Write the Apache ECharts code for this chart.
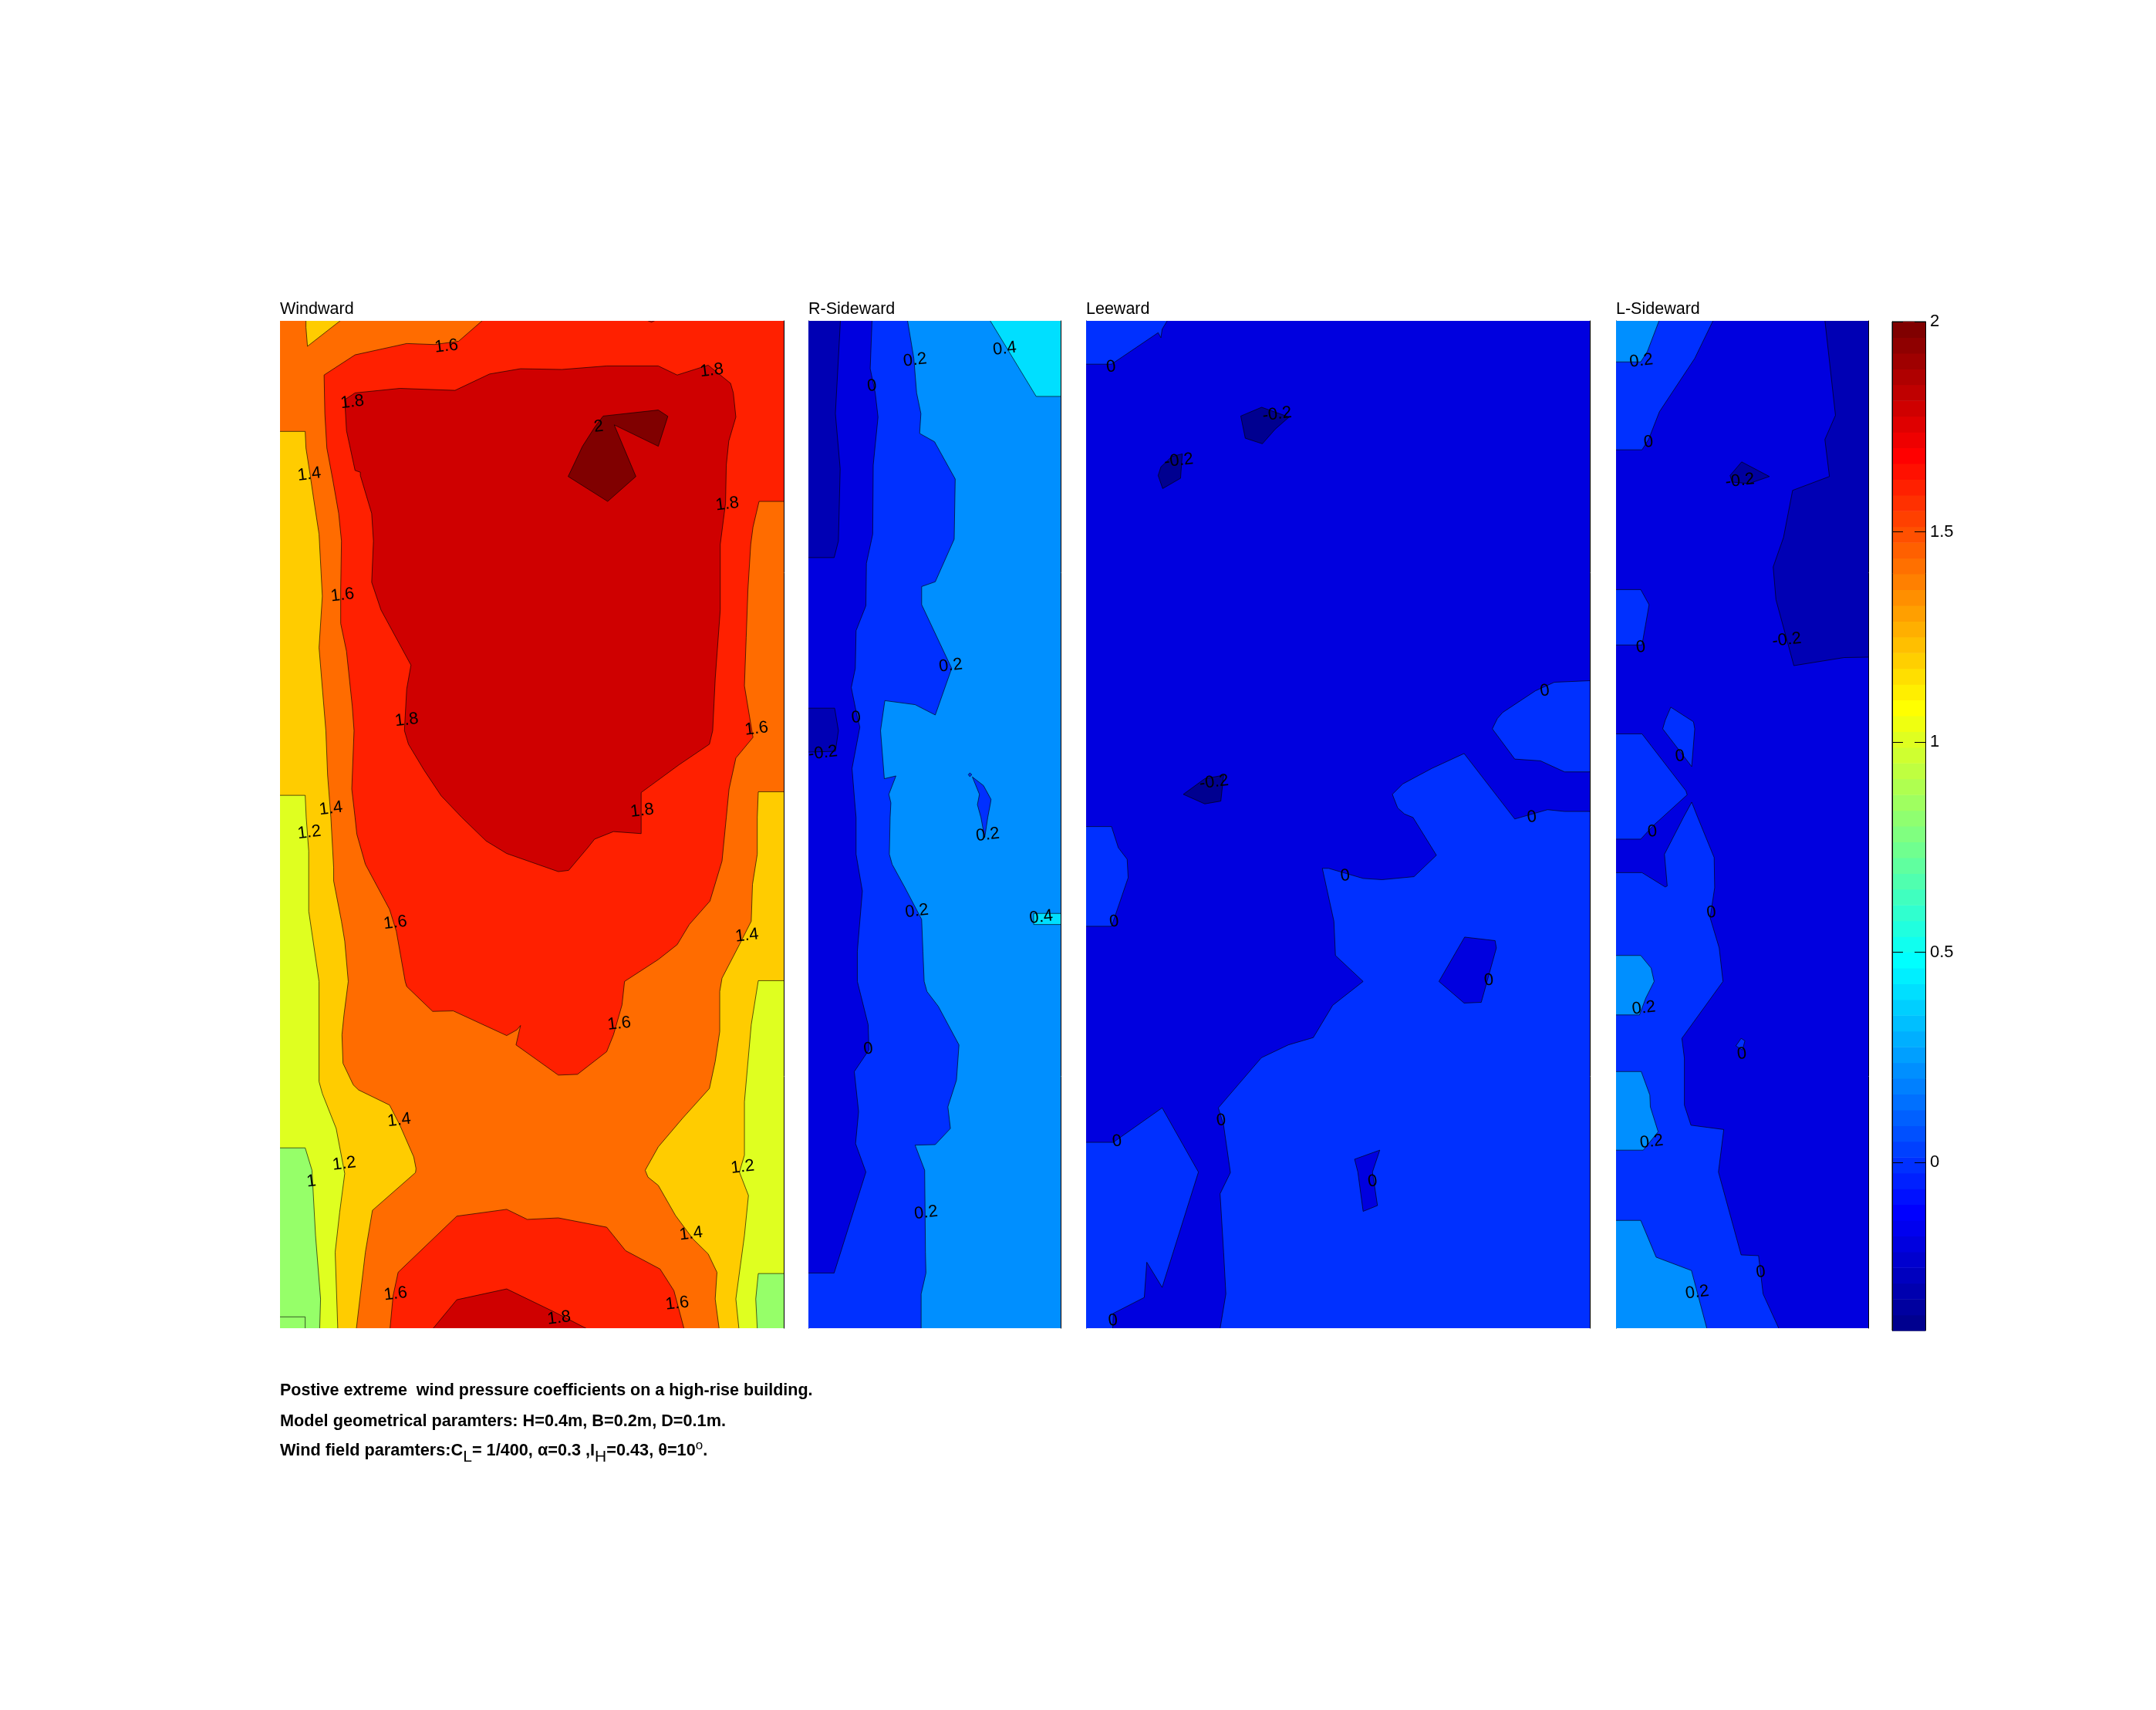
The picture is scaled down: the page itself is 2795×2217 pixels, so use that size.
<!DOCTYPE html>
<html><head><meta charset="utf-8">
<style>html,body{margin:0;padding:0;background:#fff}#c{width:2795px;height:2217px}</style>
<script src="https://cdn.jsdelivr.net/npm/echarts@6/dist/echarts.min.js"></script>
</head><body><div id="c"></div>
<script>
// All contour vertices are [distance across face (mm), distance below roof (mm)]
const fullWide=[[-2,-2],[202,-2],[202,402],[-2,402]];
const fullNarrow=[[-2,-2],[102,-2],[102,402],[-2,402]];

// ---- Windward
const wTri=[[10.3,-2],[26.4,-2],[10.9,10.1],[10.3,2.6]];
const wYellowLeft=[[-2,43.9],[10,43.9],[10.3,50.5],[12,61.4],[13.4,71],[15.5,84.7],[16.8,109.3],[15.5,129.8],[18.2,162.7],[18.9,180.4],[20.2,197.2],[21.3,217.1],[21.3,222.4],[24.4,238.4],[25.7,246.3],[27.1,262.3],[25.4,275.6],[24.6,283.5],[25,294.8],[29.1,303.4],[31.2,305.4],[43.5,311.4],[47.6,319.4],[53.1,332],[54,336.6],[53.8,338.2],[36.7,353.2],[33.9,369.8],[30.1,402],[-2,402]];
const wYellowRight=[[202,187],[189.9,187],[189.5,197.2],[189.5,211.8],[187.6,223.8],[187.1,238.4],[182.4,247.7],[175.5,261],[174.6,266.3],[174.6,282.2],[172.8,294.1],[170.5,304.8],[159.8,316.7],[150.2,328],[145,337.3],[146.1,340],[150.2,343.3],[157,355.2],[163.9,364.5],[170,370.5],[173.5,377.8],[172.8,388.4],[174.6,402],[202,402]];
const wRedTop=[[82.5,-2],[70.9,8.1],[61.3,9.4],[50.3,9],[29.8,13.5],[17.5,21.5],[17.8,36.8],[18.6,50.5],[20.9,62.8],[23.3,76.5],[24.4,87.4],[24.1,106.6],[24.1,120.2],[26.4,131.2],[28.7,153.1],[29.4,162.7],[28.5,185.9],[29.8,197.2],[30.5,203.8],[33.9,215.8],[43.5,233.7],[46.2,242.4],[49.7,262.3],[50.3,264.3],[60.6,274.2],[68.8,274],[90,283.8],[94.1,281.5],[95.5,279.8],[93.7,287.5],[110.5,299.5],[118.1,299.2],[129.7,290.2],[132.4,283.5],[135.8,271.6],[136.8,262.3],[150.2,253.6],[157.7,247.7],[162.5,239.7],[170.7,230.4],[175.5,214.5],[177.2,197.2],[178.3,185.9],[181,173.6],[187.8,165.4],[184.4,144.9],[185.1,125.7],[185.8,106.6],[186.9,88.8],[187.8,81.9],[190.2,71.7],[202,71.7],[202,-2]];
const wRedBottom=[[43.5,402],[44.9,387.1],[46.9,377.8],[70.2,355.5],[90,352.8],[98.2,356.8],[110.5,356.2],[129.7,359.9],[137.2,369.2],[150.9,376.5],[156.4,385.1],[160.9,402]];
const wCrimsonMain=[[25.7,31.3],[29.8,28.6],[47.6,26.8],[69.5,27.6],[83.2,21.1],[95.5,19],[111.9,19.3],[129.7,17.9],[150.2,17.9],[157.7,21.5],[170,17.6],[178.9,24.8],[180,28.6],[181,38.2],[178.2,47.7],[177.2,57.3],[176.9,72.4],[174.8,88.8],[174.8,114.8],[172.8,142.1],[171.8,162.7],[170.5,168.1],[158.4,176.3],[143.4,187.3],[143.4,197.2],[143.4,203.6],[132.4,202.8],[124.9,205.8],[122.2,209.2],[114.6,218.2],[110.5,218.7],[90,211.5],[81.8,206.5],[72.2,197.2],[64,188.6],[57.2,178.4],[51,168.1],[49.4,162.7],[50.3,146.2],[52,136.7],[40.1,114.8],[36.4,103.8],[37.1,87.4],[36.4,76.5],[31.9,61.4],[31.9,60.1],[29.8,59.4],[26.4,43.6]];
const wCrimsonBottom=[[59.2,402],[70.2,388.7],[90,384.4],[109.2,393.7],[125.3,402]];
const wCrimsonTop=[[141.3,-2],[147.5,0.5],[152.9,-2]];
const wMaroon=[[128.3,37.8],[150.2,35.4],[154,37.9],[150.2,49.8],[132.7,41.3],[141.3,61.8],[130.1,71.7],[114.4,61.8],[120.1,49.8],[124.9,42.3]];
const wLimeLeft=[[-2,188.4],[10,188.4],[10.4,197.2],[11.4,210.5],[11.4,234.4],[15.5,262.3],[15.5,302.1],[16.8,306.8],[22.3,320.7],[25.7,338.6],[23.7,353.9],[21.9,369.8],[23,402],[-2,402]];
const wLimeRight=[[202,262],[189.9,262],[187.1,279.5],[184.4,310.1],[184.4,331.3],[182.4,338],[186,347.3],[184.4,363.2],[181,388.4],[182.4,402],[202,402]];
const wGreenLeft=[[-2,328.4],[10,328.4],[12.7,337.3],[14.1,363.2],[16.1,388.4],[15.7,402],[-2,402]];
const wGreenRight=[[202,378.3],[189.9,378.3],[188.9,388.4],[189.6,402],[202,402]];
const wGreenCorner=[[-2,395.5],[10,395.5],[10,402],[-2,402]];
const windwardLabels=[[66.1,10.1,'1.6'],[171.4,19.7,'1.8'],[28.7,32.3,'1.8'],[126.5,42,'2'],[11.6,61,'1.4'],[177.6,72.8,'1.8'],[24.8,108.9,'1.6'],[50.3,158.5,'1.8'],[189.2,162,'1.6'],[20.2,193.7,'1.4'],[143.8,194.5,'1.8'],[11.6,203.2,'1.2'],[45.8,239,'1.6'],[185.4,244.1,'1.4'],[134.7,279.1,'1.6'],[47.3,317.4,'1.4'],[25.5,334.7,'1.2'],[12.4,341.7,'1'],[183.7,336,'1.2'],[163.2,362.5,'1.4'],[45.9,386.4,'1.6'],[157.7,390.2,'1.6'],[110.8,396,'1.8']];

// ---- R-Sideward
const rBlue=[[39,-2],[41.8,14.9],[42.9,28.6],[44.6,36.8],[44.1,44.7],[50,48],[58.2,62.8],[57.8,86.7],[50.3,103.6],[44.9,105.5],[44.9,112.7],[56.8,138],[50.3,156.5],[42.3,152.4],[30.3,150.8],[28.6,162.7],[30.1,181.8],[34.7,180.7],[31.9,188],[32.7,191.4],[32.4,197.2],[32.1,211.8],[33.2,215.8],[38.3,225.1],[44.9,237.7],[45.4,250.3],[45.9,262.3],[47,266.3],[51.5,272.2],[59.7,287.5],[58.7,301.5],[55.3,312.1],[56.3,320.7],[50.3,327.1],[42.3,327.3],[46.1,337.3],[46.4,369.8],[46.6,378.1],[44.7,386.4],[44.7,402],[-2,402],[-2,-2]];
const rIsland=[[65,181.1],[69.4,184.5],[72.4,190],[72.2,191.4],[71.1,197.2],[69.9,205.2],[68.4,197.2],[67,192.1],[67.8,188]];
const rDot=[[64,179.5],[64.8,180.2],[64,181],[63.4,180.2]];
const rDeep=[[25.3,-2],[24.5,19],[26.5,28.6],[27.6,38.2],[25.7,57.3],[25.5,84.7],[23,96.3],[22.8,113.1],[18.9,123],[18.6,138],[17,145.6],[19.2,156.5],[20.4,161.3],[17.3,177.7],[18.4,191.4],[18.9,197.2],[18.9,211.8],[21.4,226.4],[19.4,250.3],[19.4,262.3],[23.7,279.5],[24,289.5],[18.2,298.1],[19.9,314],[18.7,326.7],[22.8,338],[10.2,378.1],[-2,378.1],[-2,-2]];
const rDarkTop=[[12.8,-2],[10.7,36.8],[12.6,58.7],[11.9,87.4],[10.2,94],[-2,94],[-2,-2]];
const rDarkLow=[[-2,153.8],[10.4,153.8],[11.9,162.7],[10.7,170.9],[-2,171.3]];
const rCyanTop=[[70.9,-2],[90.3,30],[102,30],[102,-2]];
const rCyanSliver=[[89.3,235.3],[102,235.3],[102,239.7],[89.3,239.7]];
const rSideLabels=[[42.3,15.6,'0.2'],[77.8,11.1,'0.4'],[25.2,25.9,'0'],[56.4,136.9,'0.2'],[18.9,157.6,'0'],[5.8,171.6,'-0.2'],[71.1,204.1,'0.2'],[43,234.4,'0.2'],[92.3,236.8,'0.4'],[23.7,289.1,'0'],[46.6,354.2,'0.2']];

// ---- Leeward
const lTopLeft=[[-2,-2],[33.4,-2],[30.2,3.3],[29.7,6.7],[28.6,4.7],[10.1,17.2],[-2,17.2]];
const lRightIsle=[[202,142.8],[185.9,143.5],[178.4,146.9],[165.4,155.5],[163.3,157.9],[161.3,162],[170.2,174],[180.4,174.7],[190,179.1],[202,179.1]];
const lBig=[[150.1,171.8],[170.2,197.8],[183.2,194.1],[190,194.8],[202,194.8],[202,402],[52.9,402],[55.5,386.4],[54.6,369.8],[53.2,346.6],[57.3,338.2],[54.6,319.4],[52.5,312.5],[69.6,292.6],[80.3,287.5],[90.2,284.6],[97.9,271.8],[110,262.3],[99,252],[98.4,238.4],[93.8,217.4],[96.3,217.4],[110,221.4],[117.5,221.9],[130.2,220.7],[139.1,212.2],[129.8,197.2],[126.4,195.8],[123.7,193.4],[121.6,188],[125.7,183.9],[137.3,177.7]];
const lLeftIsle=[[-2,200.8],[10.1,200.8],[12.8,209.2],[16.3,213.8],[16.7,221.1],[10.8,238.4],[10.1,240.4],[-2,240.4]];
const lLowLeft=[[-2,326.2],[10.8,326.2],[30.2,312.5],[44.6,338],[30.2,383.8],[24.1,373.8],[23.1,387.8],[10.8,394.1],[10.5,402],[-2,402]];
const lPocketA=[[150.3,244.7],[162.4,246.1],[162.9,249],[156.9,270.6],[150.1,270.9],[140.1,262.3]];
const lPocketB=[[106.6,332.9],[116.6,329.3],[113.7,338],[115.7,351.3],[110,353.6],[107.9,338]];
const lLowA=[[61.4,37.8],[69.7,34.3],[80.6,38.2],[75.1,43],[70,48.8],[63.2,46.6]];
const lLowB=[[29.7,58],[34,53.9],[38.2,52.8],[37.5,62.5],[30.4,66.6],[28.6,61.4]];
const lLowC=[[38.6,188],[47.1,181.8],[54.6,180.4],[53.5,190.7],[47.1,191.8]];
const leewardLabels=[[9.9,18.3,'0'],[75.8,37.1,'-0.2'],[36.8,55.5,'-0.2'],[50.8,183.2,'-0.2'],[182.1,146.9,'0'],[177,197.1,'0'],[11.1,238.6,'0'],[102.9,220.4,'0'],[159.9,261.9,'0'],[53.6,317.5,'0'],[12.3,325.8,'0'],[113.7,341.7,'0'],[10.7,397,'0']];

// ---- L-Sideward
const sTop=[[39.4,-2],[31.2,14.9],[17.2,36.1],[12.9,47.1],[10.3,51.2],[-2,51.2],[-2,-2]];
const sIsleA=[[-2,106.7],[9.8,106.7],[13.1,112.7],[10.3,128.7],[-2,128.7]];
const sIsleB=[[21.7,153.4],[30.7,159.2],[31.2,162],[30,177],[18.5,162],[19.5,158.6]];
const sIsleC=[[-2,164],[10.3,164],[27.7,186.6],[28.2,188.2],[14.9,200.3],[9.8,205.8],[-2,205.8]];
const sBig=[[-2,219.1],[10.3,219.1],[19.5,224.8],[20.3,224.4],[19.2,211.8],[26.7,197.2],[30,191.1],[32.4,197.2],[38.9,213.1],[39.1,225.1],[37.3,237],[40.9,249],[42.4,262.3],[26.1,284.9],[27.1,292.8],[27.1,311.4],[29.7,319.4],[42.7,321.1],[40.6,338],[49.6,370.9],[56.5,371.2],[58.3,386.4],[65.4,402],[-2,402]];
const sSpeck=[[47.5,287.9],[49.6,284.9],[51.1,285.9],[50.1,289.5]];
const sSkyA=[[-2,-2],[17.8,-2],[12.4,12.2],[9.8,16.3],[-2,16.3]];
const sSkyB=[[-2,252],[9.8,252],[13.9,257],[15.1,262.3],[11.8,268.9],[9.3,275.6],[-2,275.6]];
const sSkyC=[[-2,298.1],[10,298.1],[13.4,307.4],[13.6,312.1],[16.7,322],[10.8,329.3],[-2,329.3]];
const sSkyD=[[-2,357.2],[9.8,357.2],[15.9,371.8],[29.9,377.1],[36.5,402],[-2,402]];
const sDarkRight=[[82.6,-2],[87,37.5],[82.8,47.1],[84.6,61.8],[70,67.3],[66.4,86],[62.3,97.7],[63.4,110.7],[70.5,136.9],[90.4,133.7],[102,133.5],[102,-2]];
const sDarkTri=[[45.2,61.4],[49.8,56],[60.8,61.8],[52.7,64.6],[46,64]];
const lSideLabels=[[10,15.9,'0.2'],[12.9,48.2,'0'],[49.1,63.5,'-0.2'],[67.7,126.7,'-0.2'],[9.8,129.6,'0'],[25.3,172.9,'0'],[14.4,202.8,'0'],[37.8,235,'0'],[11,272.9,'0.2'],[49.9,291.1,'0'],[14.1,326,'0.2'],[32.2,385.8,'0.2'],[57.4,377.8,'0']];

// ---- Colour bar
const colorbarTicks=[0,0.5,1,1.5,2];
const colorbarMin=-0.4, colorbarMax=2;
const jet=['#00008F','#00009F','#0000AF','#0000BF','#0000CF','#0000DF','#0000EF','#0000FF','#0010FF','#0020FF','#0030FF','#0040FF','#0050FF','#0060FF','#0070FF','#0080FF','#008FFF','#009FFF','#00AFFF','#00BFFF','#00CFFF','#00DFFF','#00EFFF','#00FFFF','#10FFEF','#20FFDF','#30FFCF','#40FFBF','#50FFAF','#60FF9F','#70FF8F','#80FF80','#8FFF70','#9FFF60','#AFFF50','#BFFF40','#CFFF30','#DFFF20','#EFFF10','#FFFF00','#FFEF00','#FFDF00','#FFCF00','#FFBF00','#FFAF00','#FF9F00','#FF8F00','#FF8000','#FF7000','#FF6000','#FF5000','#FF4000','#FF3000','#FF2000','#FF1000','#FF0000','#EF0000','#DF0000','#CF0000','#BF0000','#AF0000','#9F0000','#8F0000','#800000'];

const band={under:'#96FF69',b10:'#DFFF20',b12:'#FFCC00',b14:'#FF6C00',b16:'#FF2000',b18:'#CF0000',b20:'#800000',
  low:'#000090',lowSide:'#0000B4',n02:'#0000DF',p00:'#0030FF',p02:'#008FFF',p04:'#00DFFF'};

const panels=[
 {title:'Windward',left:363,width:653,xMax:200,leftLine:false,labels:windwardLabels,layers:[
  [band.b14,fullWide],[band.b12,wTri],[band.b12,wYellowLeft],[band.b12,wYellowRight],[band.b16,wRedTop],[band.b16,wRedBottom],
  [band.b18,wCrimsonMain],[band.b18,wCrimsonBottom],[band.b18,wCrimsonTop],[band.b20,wMaroon],[band.b10,wLimeLeft],[band.b10,wLimeRight],
  [band.under,wGreenLeft],[band.under,wGreenRight],[band.under,wGreenCorner]]},
 {title:'R-Sideward',left:1048,width:327,xMax:100,leftLine:true,labels:rSideLabels,layers:[
  [band.p02,fullNarrow],[band.p00,rBlue],[band.p00,rIsland],[band.p00,rDot],[band.n02,rDeep],[band.lowSide,rDarkTop],[band.lowSide,rDarkLow],[band.p04,rCyanTop],[band.p04,rCyanSliver]]},
 {title:'Leeward',left:1408,width:653,xMax:200,leftLine:true,labels:leewardLabels,layers:[
  [band.n02,fullWide],[band.p00,lTopLeft],[band.p00,lRightIsle],[band.p00,lBig],[band.p00,lLeftIsle],[band.p00,lLowLeft],[band.n02,lPocketA],[band.n02,lPocketB],[band.low,lLowA],[band.low,lLowB],[band.low,lLowC]]},
 {title:'L-Sideward',left:2095,width:327,xMax:100,leftLine:true,labels:lSideLabels,layers:[
  [band.n02,fullNarrow],[band.p00,sTop],[band.p00,sIsleA],[band.p00,sIsleB],[band.p00,sIsleC],[band.p00,sBig],[band.p00,sSpeck],[band.p02,sSkyA],[band.p02,sSkyB],[band.p02,sSkyC],[band.p02,sSkyD],[band.lowSide,sDarkRight],['#00009F',sDarkTri]]}
];

const FONT='"Liberation Sans",Arial,sans-serif';
const grids=[],xAxes=[],yAxes=[],series=[],titles=[];
const plotTop=416, plotH=1306;
panels.forEach((p,i)=>{
  grids.push({left:p.left,top:plotTop,width:p.width,height:plotH});
  xAxes.push({type:'value',gridIndex:i,min:0,max:p.xMax,show:false});
  const line=(pos)=>({type:'value',gridIndex:i,min:0,max:400,inverse:true,position:pos,
    axisLine:{show:true,onZero:false,lineStyle:{color:'#000',width:1}},axisTick:{show:false},axisLabel:{show:false},splitLine:{show:false}});
  const yIdx=yAxes.length;
  yAxes.push(line('right'));
  if(p.leftLine) yAxes.push(line('left'));
  series.push({type:'custom',xAxisIndex:i,yAxisIndex:yIdx,clip:true,silent:true,
    data:p.layers.map((l,k)=>[k]),
    renderItem:(params,api)=>{
      const l=p.layers[api.value(0)];
      return {type:'polygon',shape:{points:l[1].map(v=>api.coord(v))},style:{fill:l[0],stroke:'rgba(0,0,0,0.8)',lineWidth:0.8,opacity:1}};
    }});
  series.push({type:'custom',xAxisIndex:i,yAxisIndex:yIdx,clip:false,silent:true,z:5,
    data:p.labels.map(l=>[l[0],l[1]]),
    renderItem:(params,api)=>{
      const c=api.coord([api.value(0),api.value(1)]);
      return {type:'text',x:c[0],y:c[1],rotation:0.12,style:{x:0,y:0,text:p.labels[params.dataIndex][2],fontSize:22,fontFamily:FONT,fill:'#000',align:'center',verticalAlign:'middle'}};
    }});
  titles.push({text:p.title,left:p.left,top:390,padding:0,textStyle:{fontSize:21.5,fontWeight:'normal',fontFamily:FONT,color:'#000'}});
});

// colour bar
const cbIdx=panels.length;
grids.push({left:2453,top:417,width:43,height:1308,show:true,borderColor:'#000',borderWidth:1,backgroundColor:'transparent'});
xAxes.push({type:'value',gridIndex:cbIdx,min:0,max:1,show:false});
const cbAxis=(pos,labels)=>({type:'value',gridIndex:cbIdx,min:colorbarMin,max:colorbarMax,position:pos,
  axisLine:{show:true,onZero:false,lineStyle:{color:'#000',width:1}},
  axisTick:{show:true,inside:true,length:14,customValues:colorbarTicks,lineStyle:{color:'#000',width:1}},
  axisLabel:{show:labels,customValues:colorbarTicks,margin:6,fontSize:22,fontFamily:FONT,color:'#000',formatter:v=>String(v)},
  splitLine:{show:false},z:6});
const cbY=yAxes.length;
yAxes.push(cbAxis('right',true));
yAxes.push(cbAxis('left',false));
series.push({type:'custom',xAxisIndex:cbIdx,yAxisIndex:cbY,silent:true,
  data:jet.map((c,k)=>[k]),
  renderItem:(params,api)=>{
    const k=api.value(0),step=(colorbarMax-colorbarMin)/jet.length;
    const a=api.coord([0,colorbarMin+k*step]),b=api.coord([1,colorbarMin+(k+1)*step]);
    return {type:'rect',shape:{x:a[0],y:b[1],width:b[0]-a[0],height:a[1]-b[1]+0.6},style:{fill:jet[k]}};
  }});

// caption
const captionLines=[
 {top:1788,size:21.5,text:'Postive extreme  wind pressure coefficients on a high-rise building.'},
 {top:1828,size:21.7,text:'Model geometrical paramters: H=0.4m, B=0.2m, D=0.1m.'},
 {top:1866,size:21.7,text:'Wind field paramters:C{sub|L}= 1/400, α=0.3 ,I{sub|H}=0.43, θ=10{sup|o}.'}
];
captionLines.forEach(c=>titles.push({text:c.text,left:363,top:c.top,padding:0,textStyle:{fontSize:c.size,fontWeight:'bold',fontFamily:FONT,color:'#000',lineHeight:30,
  rich:{sub:{fontSize:21,fontWeight:'normal',fontFamily:FONT,color:'#000',padding:[16,0,0,0]},sup:{fontSize:17,fontWeight:'normal',fontFamily:FONT,color:'#000',padding:[0,0,14,0]}}}}));

const chart=echarts.init(document.getElementById('c'),null,{renderer:'canvas',width:2795,height:2217});
chart.setOption({animation:false,backgroundColor:'#fff',title:titles,grid:grids,xAxis:xAxes,yAxis:yAxes,series});
</script></body></html>
